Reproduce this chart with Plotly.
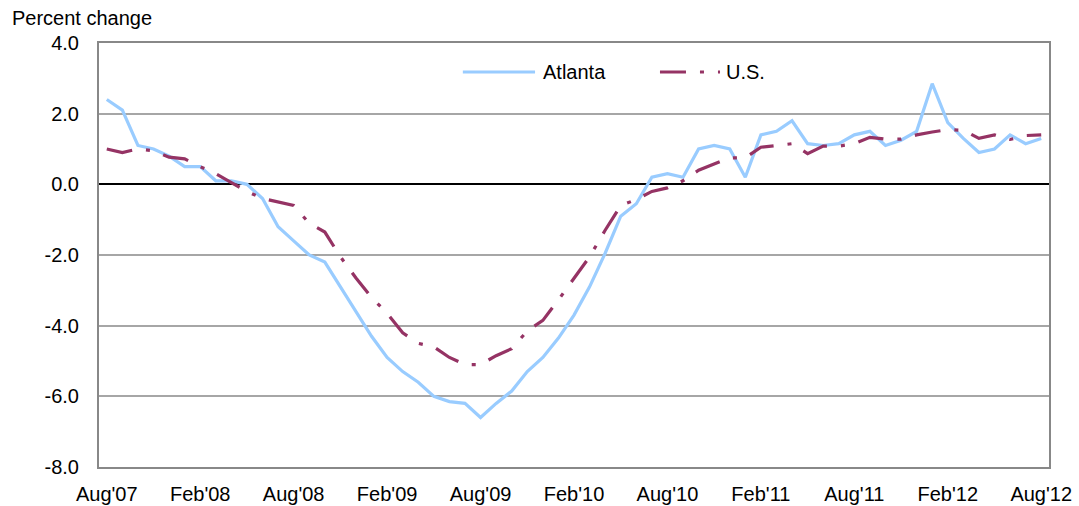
import plotly.graph_objects as go

mon_names = ["Jan", "Feb", "Mar", "Apr", "May", "Jun", "Jul", "Aug", "Sep", "Oct", "Nov", "Dec"]
months = []
for k in range(61):
    m = (7 + k) % 12
    yr = 7 + (7 + k) // 12
    months.append(f"{mon_names[m]}'{yr:02d}")

x_tick_labels = ["Aug'07", "Feb'08", "Aug'08", "Feb'09", "Aug'09", "Feb'10",
                 "Aug'10", "Feb'11", "Aug'11", "Feb'12", "Aug'12"]
y_tick_vals = [-8, -6, -4, -2, 0, 2, 4]
y_tick_text = ["-8.0", "-6.0", "-4.0", "-2.0", "0.0", "2.0", "4.0"]

atlanta = [2.4, 2.1, 1.1, 1.0, 0.8, 0.5, 0.5, 0.1, 0.1, 0.0,
           -0.4, -1.2, -1.6, -2.0, -2.2, -2.9, -3.6, -4.3, -4.9, -5.3,
           -5.6, -6.0, -6.15, -6.2, -6.6, -6.2, -5.85, -5.3, -4.9, -4.35,
           -3.7, -2.9, -1.95, -0.9, -0.55, 0.2, 0.3, 0.2, 1.0, 1.1,
           1.0, 0.2, 1.4, 1.5, 1.8, 1.15, 1.1, 1.15, 1.4, 1.5,
           1.1, 1.25, 1.5, 2.85, 1.75, 1.3, 0.9, 1.0, 1.4, 1.15, 1.3]

us = [1.0, 0.9, 1.0, 0.95, 0.77, 0.72, 0.5, 0.3, 0.05, -0.2,
      -0.4, -0.5, -0.6, -1.1, -1.35, -2.05, -2.65, -3.2, -3.65, -4.2,
      -4.5, -4.6, -4.9, -5.1, -5.1, -4.85, -4.65, -4.15, -3.85, -3.27,
      -2.67, -2.05, -1.3, -0.6, -0.43, -0.2, -0.1, 0.1, 0.4, 0.57,
      0.75, 0.75, 1.05, 1.1, 1.15, 0.87, 1.08, 1.08, 1.15, 1.33,
      1.28, 1.28, 1.4, 1.48, 1.55, 1.53, 1.3, 1.4, 1.27, 1.38, 1.4]

blue = "#99CCFF"
maroon = "#953364"
us_dash = "26px,14px,4px,14px"
font = "Arial, Liberation Sans, sans-serif"
fs = 20

fig = go.Figure()
fig.add_trace(go.Scatter(x=months, y=atlanta, mode="lines", name="Atlanta",
                         line=dict(color=blue, width=3.2)))
fig.add_trace(go.Scatter(x=months, y=us, mode="lines", name="U.S.",
                         line=dict(color=maroon, width=3.2, dash=us_dash)))

fig.update_layout(
    width=1079, height=506,
    margin=dict(l=99, r=30, t=43, b=39, autoexpand=False),
    paper_bgcolor="white", plot_bgcolor="white",
    showlegend=False,
    font=dict(family=font, size=fs, color="black"),
)
fig.update_xaxes(
    type="category", categoryorder="array", categoryarray=months,
    range=[-0.5, 60.5], tickmode="array", tickvals=x_tick_labels, ticktext=x_tick_labels,
    showgrid=False, showline=True, linecolor="#888888", linewidth=2, mirror=True,
    ticks="", ticklabelstandoff=8, tickfont=dict(size=fs), automargin=False,
)
fig.update_yaxes(
    range=[-8, 4], tickmode="array", tickvals=y_tick_vals, ticktext=y_tick_text,
    showgrid=True, gridcolor="#A6A6A6", gridwidth=1.5,
    zeroline=True, zerolinecolor="black", zerolinewidth=2,
    showline=True, linecolor="#888888", linewidth=2, mirror=True,
    ticks="", ticklabelstandoff=14, tickfont=dict(size=fs), automargin=False,
)

# title annotation
fig.add_annotation(text="Percent change", xref="paper", yref="paper",
                   x=-0.0937, y=1.059, xanchor="left", yanchor="middle",
                   showarrow=False, font=dict(size=fs, family=font))

# custom legend
ly = 0.9316
fig.add_shape(type="line", xref="paper", yref="paper", x0=0.383, x1=0.459, y0=ly, y1=ly,
              line=dict(color=blue, width=3.2))
fig.add_annotation(text="Atlanta", xref="paper", yref="paper", x=0.465, y=ly,
                   xanchor="left", yanchor="middle", showarrow=False,
                   font=dict(size=fs, family=font))
fig.add_shape(type="line", xref="paper", yref="paper", x0=0.5905, x1=0.6537, y0=ly, y1=ly,
              line=dict(color=maroon, width=3.2, dash=us_dash))
fig.add_annotation(text="U.S.", xref="paper", yref="paper", x=0.658, y=ly,
                   xanchor="left", yanchor="middle", showarrow=False,
                   font=dict(size=fs, family=font))

fig.write_html("out.html",
               config={"displayModeBar": False},
               post_script="document.body.style.margin='0';document.body.style.overflow='hidden';")
